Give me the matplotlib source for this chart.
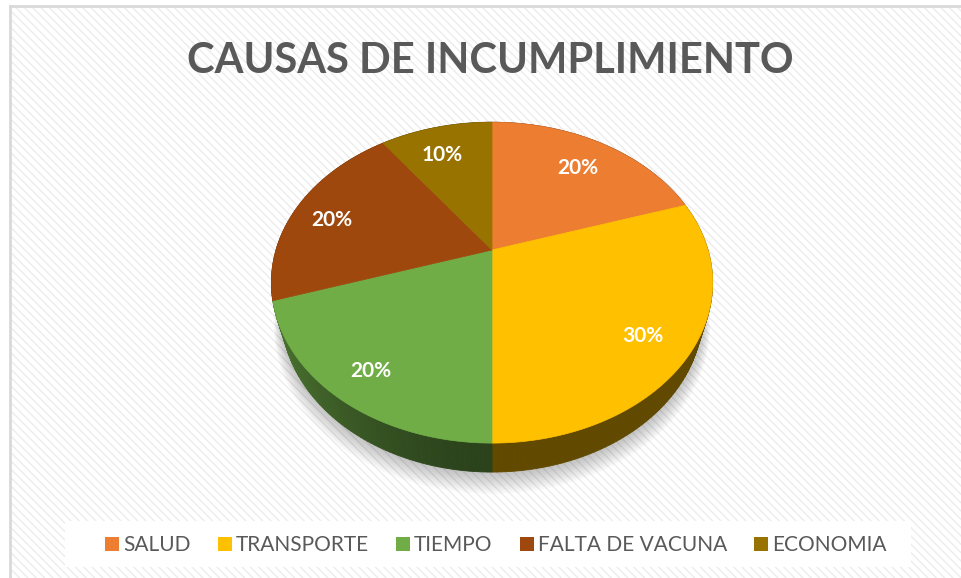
import numpy as np
import matplotlib
matplotlib.use('Agg')
import matplotlib.pyplot as plt
from matplotlib.patches import Rectangle, Polygon
from matplotlib.lines import Line2D

# ---------------- data ----------------
categories = ["SALUD", "TRANSPORTE", "TIEMPO", "FALTA DE VACUNA", "ECONOMIA"]
values = [20, 30, 20, 20, 10]
value_labels = ["20%", "30%", "20%", "20%", "10%"]
colors = ["#ED7D31", "#FFC000", "#70AD47", "#9E480E", "#997300"]
title = "CAUSAS DE INCUMPLIMIENTO"

# ---------------- figure ----------------
W, H = 961, 578
plt.rcParams['font.family'] = ['Lato', 'DejaVu Sans']
fig = plt.figure(figsize=(W / 100, H / 100), dpi=100)

# chart-area background with faint diagonal pattern
bg = Rectangle((10 / W, 0), 1.0, (H - 6) / H, transform=fig.transFigure,
               facecolor='white', edgecolor='#ececec', hatch='\\\\\\\\',
               linewidth=0, zorder=-5)
fig.add_artist(bg)
fig.add_artist(Line2D([10 / W, 1], [(H - 6) / H, (H - 6) / H], transform=fig.transFigure,
                      color='#d9d9d9', lw=2, zorder=-4))
fig.add_artist(Line2D([10 / W, 10 / W], [0, (H - 6) / H], transform=fig.transFigure,
                      color='#d9d9d9', lw=2, zorder=-4))
# legend box
fig.add_artist(Rectangle((65 / W, 1 - 567 / H), (911 - 65) / W, 46 / H,
                         transform=fig.transFigure, facecolor='white',
                         edgecolor='none', zorder=-3))

# axes in projection units (216 px per unit), pie vertex at pixel (492, 250)
SCALE = 216.0
CX, CY = 492.0, 250.0
ax = fig.add_axes([0, 0, 1, 1])
ax.set_xlim(-CX / SCALE, (W - CX) / SCALE)
ax.set_ylim(-(H - CY) / SCALE, CY / SCALE)
ax.axis('off')
ax.patch.set_alpha(0)

# perspective projection of a tilted disc
Dcam = 3.45
elev = np.arcsin(0.712)
se, ce = np.sin(elev), np.cos(elev)
thick = 0.218


def proj(t, r=1.0, h=0.0):
    X = r * np.cos(t)
    S = r * np.sin(t)
    Y = S * se - h * ce
    Z = Dcam + S * ce + h * se
    return X * Dcam / Z, Y * Dcam / Z, Z


fr = np.array(values, dtype=float) / np.sum(values)
edges = np.pi / 2 - 2 * np.pi * np.concatenate([[0.0], np.cumsum(fr)])

# soft shadow
tt = np.linspace(0, 2 * np.pi, 400)
for k in range(1, 11):
    x, y, _ = proj(tt, r=1.0 + 0.005 * k, h=thick + 0.008 * k)
    ax.add_patch(Polygon(np.column_stack([x, y]), closed=True, facecolor='black',
                         edgecolor='none', alpha=0.022, zorder=1))


def shade(t):
    c = np.cos(t)
    return 0.38 + 0.32 * max(0.0, -c) ** 1.5


def rgb(hexc):
    hexc = hexc.lstrip('#')
    return np.array([int(hexc[i:i + 2], 16) / 255 for i in (0, 2, 4)])


# side strips (painter's algorithm)
quads = []
for i in range(len(values)):
    a0, a1 = edges[i], edges[i + 1]
    n = max(4, int(abs(a1 - a0) / np.radians(1.0)))
    ts = np.linspace(a0, a1, n + 1)
    for j in range(n):
        t0, t1 = ts[j], ts[j + 1]
        x0, y0, z0 = proj(t0)
        x1, y1, z1 = proj(t1)
        bx0, by0, _ = proj(t0, h=thick)
        bx1, by1, _ = proj(t1, h=thick)
        tm = 0.5 * (t0 + t1)
        col = np.clip(rgb(colors[i]) * shade(tm), 0, 1)
        quads.append((0.5 * (z0 + z1), [(x0, y0), (x1, y1), (bx1, by1), (bx0, by0)], col))
quads.sort(key=lambda q: -q[0])
for z, pts, col in quads:
    ax.add_patch(Polygon(pts, closed=True, facecolor=col, edgecolor=col, lw=0.6, zorder=2))

# top face
for i in range(len(values)):
    ts = np.linspace(edges[i], edges[i + 1], 200)
    x, y, _ = proj(ts)
    pts = np.vstack([[0.0, 0.0], np.column_stack([x, y])])
    ax.add_patch(Polygon(pts, closed=True, facecolor=colors[i], edgecolor=colors[i],
                         lw=0.5, zorder=3))

# data labels
for i in range(len(values)):
    tm = 0.5 * (edges[i] + edges[i + 1])
    x, y, _ = proj(tm, r=0.8)
    ax.text(x - 4 / SCALE, y - 12 / SCALE, value_labels[i], ha='center', va='baseline',
            color='white', fontsize=15, fontweight='bold', zorder=5)

# title
fig.text(490 / W, 1 - 73 / H, title, ha='center', va='baseline', fontsize=30,
         fontweight='bold', color='#595959')

# legend
handles = [Rectangle((0, 0), 1, 1, facecolor=c, edgecolor='none') for c in colors]
fig.legend(handles, categories, loc='center', bbox_to_anchor=(496 / W, 1 - 545 / H),
           ncol=5, frameon=False, fontsize=15, handlelength=0.67, handleheight=0.67,
           handletextpad=0.2, columnspacing=1.3, labelcolor='#595959')

fig.savefig('out.png', dpi=100)
